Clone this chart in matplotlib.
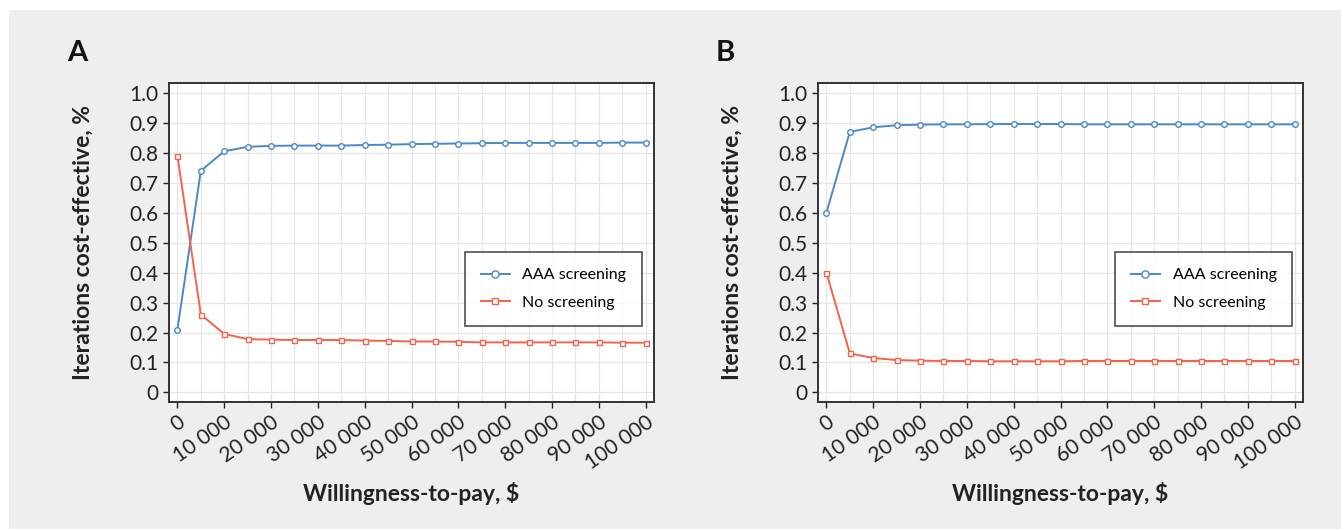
import numpy as np
import matplotlib.pyplot as plt
from matplotlib.patches import Rectangle

plt.rcParams['font.family'] = ['Lato', 'DejaVu Sans']

# Donnees
wtp = list(range(0, 100001, 5000))

aaa_a = [0.21, 0.74, 0.805, 0.820, 0.823, 0.824, 0.824, 0.824, 0.826, 0.827, 0.829,
         0.830, 0.831, 0.832, 0.833, 0.833, 0.833, 0.833, 0.833, 0.834, 0.834]
no_a = [0.79, 0.26, 0.195, 0.178, 0.176, 0.175, 0.175, 0.175, 0.173, 0.172, 0.170,
        0.170, 0.169, 0.167, 0.167, 0.167, 0.167, 0.167, 0.167, 0.166, 0.166]

aaa_b = [0.60, 0.870, 0.885, 0.892, 0.894, 0.895, 0.895, 0.896, 0.896, 0.896, 0.896,
         0.895, 0.895, 0.895, 0.895, 0.895, 0.895, 0.895, 0.895, 0.895, 0.895]
no_b = [0.40, 0.130, 0.115, 0.108, 0.106, 0.105, 0.105, 0.104, 0.104, 0.104, 0.104,
        0.105, 0.105, 0.105, 0.105, 0.105, 0.105, 0.105, 0.105, 0.105, 0.105]

xticks = list(range(0, 100001, 10000))
xlabels = ['0', '10 000', '20 000', '30 000', '40 000', '50 000', '60 000',
           '70 000', '80 000', '90 000', '100 000']
yticks = [0, 0.1, 0.2, 0.3, 0.4, 0.5, 0.6, 0.7, 0.8, 0.9, 1.0]
ylabels = ['0', '0.1', '0.2', '0.3', '0.4', '0.5', '0.6', '0.7', '0.8', '0.9', '1.0']

blue = '#4a88cc'
red = '#f2634b'

fig = plt.figure(figsize=(13.41, 5.29), dpi=100)
fig.patch.set_facecolor('white')
fig.patches.append(Rectangle((9 / 1341, 0), 1, 1 - 10 / 529, transform=fig.transFigure,
                             facecolor='#eeeeee', edgecolor='none', zorder=-10))

W, H = 1341, 529
panels = [('A', 169, aaa_a, no_a, 465), ('B', 818, aaa_b, no_b, 1115)]

for letter, left, aaa, no, legx in panels:
    ax = fig.add_axes([left / W, 1 - 402 / H, 485 / W, 319 / H])
    ax.set_facecolor('white')
    ax.plot(wtp, aaa, color=blue, lw=1.4, marker='o', ms=4.0, mfc='white',
            mec=blue, mew=1.0, label='AAA screening')
    ax.plot(wtp, no, color=red, lw=1.4, marker='s', ms=3.6, mfc='white',
            mec=red, mew=1.0, label='No screening')
    ax.set_xlim(-1800, 101800)
    ax.set_ylim(-0.032, 1.033)
    ax.set_xticks(xticks)
    ax.set_xticklabels(xlabels, rotation=35, ha='right', rotation_mode='anchor')
    ax.set_yticks(yticks)
    ax.set_yticklabels(ylabels)
    ax.set_xticks(range(0, 100001, 5000), minor=True)
    ax.grid(True, which='both', color='#e6e6e6', lw=0.9)
    ax.set_axisbelow(True)
    ax.tick_params(axis='both', labelsize=15, colors='#222222', length=4, width=1)
    ax.tick_params(axis='x', which='minor', length=0)
    for s in ax.spines.values():
        s.set_color('#333333')
        s.set_linewidth(1.4)
    ax.set_xlabel('Willingness-to-pay, $', fontsize=16.5, fontweight='bold', labelpad=6,
                  color='#222222')
    ax.set_ylabel('Iterations cost-effective, %', fontsize=16.5, fontweight='bold',
                  labelpad=26, color='#222222')
    leg = ax.legend(loc='upper left', bbox_to_anchor=((legx - left) / 485, (402 - 252) / 319),
                    fontsize=11.5, frameon=True, fancybox=False, edgecolor='#222222',
                    borderpad=1.0, labelspacing=0.85, handlelength=1.8, handletextpad=0.8,
                    borderaxespad=0, markerscale=1.3)
    leg.get_frame().set_linewidth(1.2)
    fig.text((left - 102) / W, 1 - 53 / H, letter, fontsize=21, fontweight='bold',
             va='center', ha='left', color='#111111')

plt.savefig('out.png', dpi=100, facecolor=fig.get_facecolor())
